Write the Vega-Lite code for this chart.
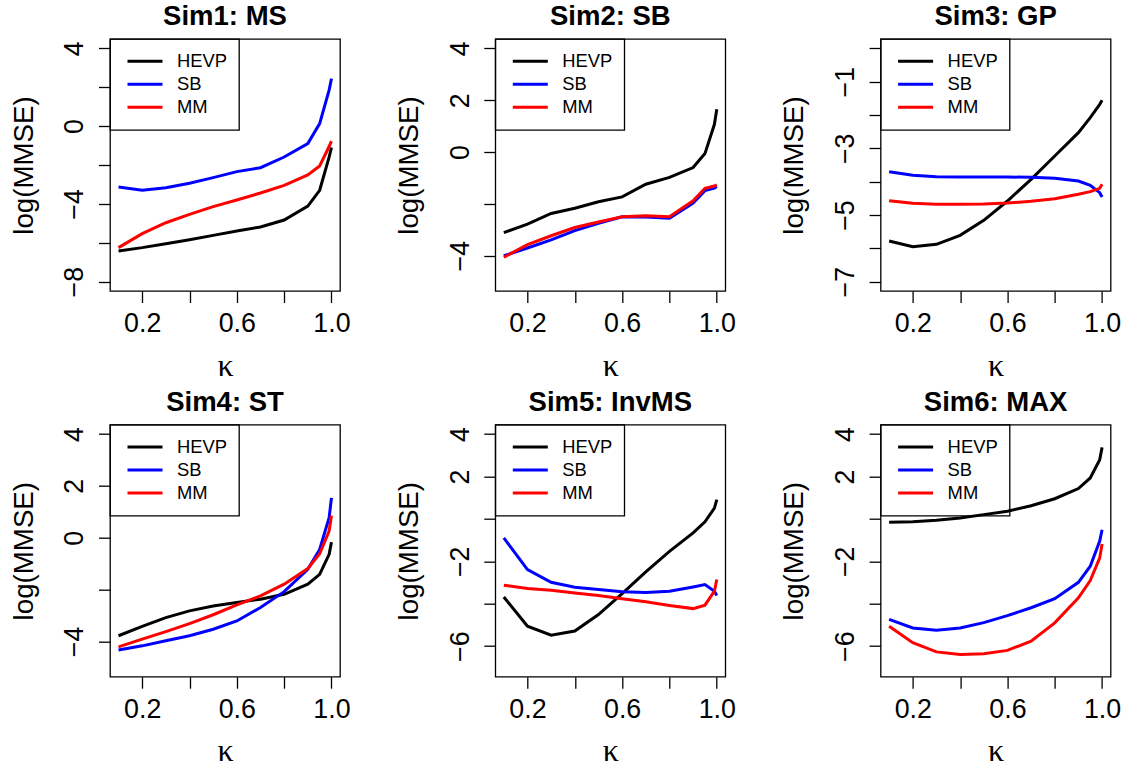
{
"$schema": "https://vega.github.io/schema/vega-lite/v6.json",
"padding": {"left": 9, "top": 2, "right": 5, "bottom": 5},
"background": "white",
"config": {
  "view": {"stroke": "black", "strokeWidth": 1.3},
  "axis": {"grid": false, "domain": false, "tickColor": "black", "tickWidth": 1.3, "tickSize": 11.5, "labelFont": "Liberation Sans", "labelFontSize": 26.8, "labelColor": "black", "titleFont": "Liberation Sans", "titleFontSize": 27.7, "titleColor": "black", "titleFontWeight": "normal", "labelOverlap": false, "labelFlush": false},
  "axisX": {"labelBaseline": "alphabetic", "labelPadding": 29.2, "labelAngle": 0, "labelAlign": "center", "titleFont": "Liberation Serif", "titleFontSize": 32, "titleX": 115, "titleY": 84, "titleBaseline": "alphabetic", "titleAngle": 0, "titleAlign": "center"},
  "axisY": {"labelAngle": 270, "labelAlign": "center", "labelBaseline": "alphabetic", "labelPadding": 15.8, "titleAngle": 270, "titleX": -78, "titleY": 126, "titleBaseline": "alphabetic", "titleAlign": "center"},
  "title": {"font": "Liberation Sans", "fontSize": 27.5, "fontWeight": "bold", "color": "black", "baseline": "alphabetic", "offset": 8, "anchor": "middle", "frame": "group"},
  "legend": {"title": null, "strokeColor": "black", "strokeWidth": 1.3, "padding": 11, "symbolType": "stroke", "symbolStrokeWidth": 3, "symbolSize": 1225, "labelFontSize": 18.4, "labelFont": "Liberation Sans", "labelColor": "black", "clipHeight": 22.5, "rowPadding": 0, "labelOffset": 13, "symbolOffset": 5, "cornerRadius": 0}
},
"datasets": {"d": [
{"panel":"Sim1","kappa":0.1,"method":"HEVP","logmmse":-6.42},{"panel":"Sim1","kappa":0.2,"method":"HEVP","logmmse":-6.25},{"panel":"Sim1","kappa":0.3,"method":"HEVP","logmmse":-6.05},{"panel":"Sim1","kappa":0.4,"method":"HEVP","logmmse":-5.84},{"panel":"Sim1","kappa":0.5,"method":"HEVP","logmmse":-5.62},{"panel":"Sim1","kappa":0.6,"method":"HEVP","logmmse":-5.39},{"panel":"Sim1","kappa":0.7,"method":"HEVP","logmmse":-5.19},{"panel":"Sim1","kappa":0.8,"method":"HEVP","logmmse":-4.83},{"panel":"Sim1","kappa":0.9,"method":"HEVP","logmmse":-4.11},{"panel":"Sim1","kappa":0.95,"method":"HEVP","logmmse":-3.3},{"panel":"Sim1","kappa":0.99,"method":"HEVP","logmmse":-1.6},{"panel":"Sim1","kappa":1.0,"method":"HEVP","logmmse":-1.1},
{"panel":"Sim1","kappa":0.1,"method":"SB","logmmse":-3.13},{"panel":"Sim1","kappa":0.2,"method":"SB","logmmse":-3.3},{"panel":"Sim1","kappa":0.3,"method":"SB","logmmse":-3.17},{"panel":"Sim1","kappa":0.4,"method":"SB","logmmse":-2.94},{"panel":"Sim1","kappa":0.5,"method":"SB","logmmse":-2.65},{"panel":"Sim1","kappa":0.6,"method":"SB","logmmse":-2.34},{"panel":"Sim1","kappa":0.7,"method":"SB","logmmse":-2.14},{"panel":"Sim1","kappa":0.8,"method":"SB","logmmse":-1.59},{"panel":"Sim1","kappa":0.9,"method":"SB","logmmse":-0.9},{"panel":"Sim1","kappa":0.95,"method":"SB","logmmse":0.13},{"panel":"Sim1","kappa":0.99,"method":"SB","logmmse":1.85},{"panel":"Sim1","kappa":1.0,"method":"SB","logmmse":2.44},
{"panel":"Sim1","kappa":0.1,"method":"MM","logmmse":-6.25},{"panel":"Sim1","kappa":0.2,"method":"MM","logmmse":-5.53},{"panel":"Sim1","kappa":0.3,"method":"MM","logmmse":-4.97},{"panel":"Sim1","kappa":0.4,"method":"MM","logmmse":-4.54},{"panel":"Sim1","kappa":0.5,"method":"MM","logmmse":-4.14},{"panel":"Sim1","kappa":0.6,"method":"MM","logmmse":-3.8},{"panel":"Sim1","kappa":0.7,"method":"MM","logmmse":-3.44},{"panel":"Sim1","kappa":0.8,"method":"MM","logmmse":-3.05},{"panel":"Sim1","kappa":0.9,"method":"MM","logmmse":-2.51},{"panel":"Sim1","kappa":0.95,"method":"MM","logmmse":-2.05},{"panel":"Sim1","kappa":0.99,"method":"MM","logmmse":-1.05},{"panel":"Sim1","kappa":1.0,"method":"MM","logmmse":-0.77},
{"panel":"Sim2","kappa":0.1,"method":"HEVP","logmmse":-3.11},{"panel":"Sim2","kappa":0.2,"method":"HEVP","logmmse":-2.78},{"panel":"Sim2","kappa":0.3,"method":"HEVP","logmmse":-2.37},{"panel":"Sim2","kappa":0.4,"method":"HEVP","logmmse":-2.17},{"panel":"Sim2","kappa":0.5,"method":"HEVP","logmmse":-1.92},{"panel":"Sim2","kappa":0.6,"method":"HEVP","logmmse":-1.73},{"panel":"Sim2","kappa":0.7,"method":"HEVP","logmmse":-1.24},{"panel":"Sim2","kappa":0.8,"method":"HEVP","logmmse":-0.98},{"panel":"Sim2","kappa":0.9,"method":"HEVP","logmmse":-0.6},{"panel":"Sim2","kappa":0.95,"method":"HEVP","logmmse":-0.06},{"panel":"Sim2","kappa":0.99,"method":"HEVP","logmmse":1.07},{"panel":"Sim2","kappa":1.0,"method":"HEVP","logmmse":1.65},
{"panel":"Sim2","kappa":0.1,"method":"SB","logmmse":-4.0},{"panel":"Sim2","kappa":0.2,"method":"SB","logmmse":-3.7},{"panel":"Sim2","kappa":0.3,"method":"SB","logmmse":-3.39},{"panel":"Sim2","kappa":0.4,"method":"SB","logmmse":-3.03},{"panel":"Sim2","kappa":0.5,"method":"SB","logmmse":-2.75},{"panel":"Sim2","kappa":0.6,"method":"SB","logmmse":-2.5},{"panel":"Sim2","kappa":0.7,"method":"SB","logmmse":-2.51},{"panel":"Sim2","kappa":0.8,"method":"SB","logmmse":-2.55},{"panel":"Sim2","kappa":0.9,"method":"SB","logmmse":-1.97},{"panel":"Sim2","kappa":0.95,"method":"SB","logmmse":-1.49},{"panel":"Sim2","kappa":0.99,"method":"SB","logmmse":-1.39},{"panel":"Sim2","kappa":1.0,"method":"SB","logmmse":-1.33},
{"panel":"Sim2","kappa":0.1,"method":"MM","logmmse":-4.06},{"panel":"Sim2","kappa":0.2,"method":"MM","logmmse":-3.57},{"panel":"Sim2","kappa":0.3,"method":"MM","logmmse":-3.23},{"panel":"Sim2","kappa":0.4,"method":"MM","logmmse":-2.91},{"panel":"Sim2","kappa":0.5,"method":"MM","logmmse":-2.7},{"panel":"Sim2","kappa":0.6,"method":"MM","logmmse":-2.5},{"panel":"Sim2","kappa":0.7,"method":"MM","logmmse":-2.46},{"panel":"Sim2","kappa":0.8,"method":"MM","logmmse":-2.5},{"panel":"Sim2","kappa":0.9,"method":"MM","logmmse":-1.88},{"panel":"Sim2","kappa":0.95,"method":"MM","logmmse":-1.4},{"panel":"Sim2","kappa":0.99,"method":"MM","logmmse":-1.31},{"panel":"Sim2","kappa":1.0,"method":"MM","logmmse":-1.26},
{"panel":"Sim3","kappa":0.1,"method":"HEVP","logmmse":-5.78},{"panel":"Sim3","kappa":0.2,"method":"HEVP","logmmse":-5.95},{"panel":"Sim3","kappa":0.3,"method":"HEVP","logmmse":-5.88},{"panel":"Sim3","kappa":0.4,"method":"HEVP","logmmse":-5.61},{"panel":"Sim3","kappa":0.5,"method":"HEVP","logmmse":-5.16},{"panel":"Sim3","kappa":0.6,"method":"HEVP","logmmse":-4.58},{"panel":"Sim3","kappa":0.7,"method":"HEVP","logmmse":-3.93},{"panel":"Sim3","kappa":0.8,"method":"HEVP","logmmse":-3.23},{"panel":"Sim3","kappa":0.9,"method":"HEVP","logmmse":-2.53},{"panel":"Sim3","kappa":0.95,"method":"HEVP","logmmse":-2.08},{"panel":"Sim3","kappa":0.99,"method":"HEVP","logmmse":-1.68},{"panel":"Sim3","kappa":1.0,"method":"HEVP","logmmse":-1.56},
{"panel":"Sim3","kappa":0.1,"method":"SB","logmmse":-3.7},{"panel":"Sim3","kappa":0.2,"method":"SB","logmmse":-3.81},{"panel":"Sim3","kappa":0.3,"method":"SB","logmmse":-3.85},{"panel":"Sim3","kappa":0.4,"method":"SB","logmmse":-3.86},{"panel":"Sim3","kappa":0.5,"method":"SB","logmmse":-3.86},{"panel":"Sim3","kappa":0.6,"method":"SB","logmmse":-3.86},{"panel":"Sim3","kappa":0.7,"method":"SB","logmmse":-3.87},{"panel":"Sim3","kappa":0.8,"method":"SB","logmmse":-3.9},{"panel":"Sim3","kappa":0.9,"method":"SB","logmmse":-3.98},{"panel":"Sim3","kappa":0.95,"method":"SB","logmmse":-4.11},{"panel":"Sim3","kappa":0.99,"method":"SB","logmmse":-4.33},{"panel":"Sim3","kappa":1.0,"method":"SB","logmmse":-4.46},
{"panel":"Sim3","kappa":0.1,"method":"MM","logmmse":-4.57},{"panel":"Sim3","kappa":0.2,"method":"MM","logmmse":-4.65},{"panel":"Sim3","kappa":0.3,"method":"MM","logmmse":-4.68},{"panel":"Sim3","kappa":0.4,"method":"MM","logmmse":-4.68},{"panel":"Sim3","kappa":0.5,"method":"MM","logmmse":-4.67},{"panel":"Sim3","kappa":0.6,"method":"MM","logmmse":-4.64},{"panel":"Sim3","kappa":0.7,"method":"MM","logmmse":-4.59},{"panel":"Sim3","kappa":0.8,"method":"MM","logmmse":-4.51},{"panel":"Sim3","kappa":0.9,"method":"MM","logmmse":-4.38},{"panel":"Sim3","kappa":0.95,"method":"MM","logmmse":-4.3},{"panel":"Sim3","kappa":0.99,"method":"MM","logmmse":-4.2},{"panel":"Sim3","kappa":1.0,"method":"MM","logmmse":-4.08},
{"panel":"Sim4","kappa":0.1,"method":"HEVP","logmmse":-3.78},{"panel":"Sim4","kappa":0.2,"method":"HEVP","logmmse":-3.42},{"panel":"Sim4","kappa":0.3,"method":"HEVP","logmmse":-3.08},{"panel":"Sim4","kappa":0.4,"method":"HEVP","logmmse":-2.82},{"panel":"Sim4","kappa":0.5,"method":"HEVP","logmmse":-2.63},{"panel":"Sim4","kappa":0.6,"method":"HEVP","logmmse":-2.5},{"panel":"Sim4","kappa":0.7,"method":"HEVP","logmmse":-2.37},{"panel":"Sim4","kappa":0.8,"method":"HEVP","logmmse":-2.18},{"panel":"Sim4","kappa":0.9,"method":"HEVP","logmmse":-1.79},{"panel":"Sim4","kappa":0.95,"method":"HEVP","logmmse":-1.41},{"panel":"Sim4","kappa":0.99,"method":"HEVP","logmmse":-0.64},{"panel":"Sim4","kappa":1.0,"method":"HEVP","logmmse":-0.17},
{"panel":"Sim4","kappa":0.1,"method":"SB","logmmse":-4.33},{"panel":"Sim4","kappa":0.2,"method":"SB","logmmse":-4.17},{"panel":"Sim4","kappa":0.3,"method":"SB","logmmse":-3.97},{"panel":"Sim4","kappa":0.4,"method":"SB","logmmse":-3.78},{"panel":"Sim4","kappa":0.5,"method":"SB","logmmse":-3.53},{"panel":"Sim4","kappa":0.6,"method":"SB","logmmse":-3.21},{"panel":"Sim4","kappa":0.7,"method":"SB","logmmse":-2.69},{"panel":"Sim4","kappa":0.8,"method":"SB","logmmse":-2.08},{"panel":"Sim4","kappa":0.9,"method":"SB","logmmse":-1.22},{"panel":"Sim4","kappa":0.95,"method":"SB","logmmse":-0.45},{"panel":"Sim4","kappa":0.99,"method":"SB","logmmse":0.77},{"panel":"Sim4","kappa":1.0,"method":"SB","logmmse":1.54},
{"panel":"Sim4","kappa":0.1,"method":"MM","logmmse":-4.21},{"panel":"Sim4","kappa":0.2,"method":"MM","logmmse":-3.91},{"panel":"Sim4","kappa":0.3,"method":"MM","logmmse":-3.62},{"panel":"Sim4","kappa":0.4,"method":"MM","logmmse":-3.31},{"panel":"Sim4","kappa":0.5,"method":"MM","logmmse":-2.97},{"panel":"Sim4","kappa":0.6,"method":"MM","logmmse":-2.59},{"panel":"Sim4","kappa":0.7,"method":"MM","logmmse":-2.24},{"panel":"Sim4","kappa":0.8,"method":"MM","logmmse":-1.79},{"panel":"Sim4","kappa":0.9,"method":"MM","logmmse":-1.19},{"panel":"Sim4","kappa":0.95,"method":"MM","logmmse":-0.62},{"panel":"Sim4","kappa":0.99,"method":"MM","logmmse":0.26},{"panel":"Sim4","kappa":1.0,"method":"MM","logmmse":0.86},
{"panel":"Sim5","kappa":0.1,"method":"HEVP","logmmse":-3.68},{"panel":"Sim5","kappa":0.2,"method":"HEVP","logmmse":-5.06},{"panel":"Sim5","kappa":0.3,"method":"HEVP","logmmse":-5.48},{"panel":"Sim5","kappa":0.4,"method":"HEVP","logmmse":-5.29},{"panel":"Sim5","kappa":0.5,"method":"HEVP","logmmse":-4.51},{"panel":"Sim5","kappa":0.6,"method":"HEVP","logmmse":-3.52},{"panel":"Sim5","kappa":0.7,"method":"HEVP","logmmse":-2.5},{"panel":"Sim5","kappa":0.8,"method":"HEVP","logmmse":-1.53},{"panel":"Sim5","kappa":0.9,"method":"HEVP","logmmse":-0.66},{"panel":"Sim5","kappa":0.95,"method":"HEVP","logmmse":-0.14},{"panel":"Sim5","kappa":0.99,"method":"HEVP","logmmse":0.51},{"panel":"Sim5","kappa":1.0,"method":"HEVP","logmmse":0.91},
{"panel":"Sim5","kappa":0.1,"method":"SB","logmmse":-0.9},{"panel":"Sim5","kappa":0.2,"method":"SB","logmmse":-2.39},{"panel":"Sim5","kappa":0.3,"method":"SB","logmmse":-2.99},{"panel":"Sim5","kappa":0.4,"method":"SB","logmmse":-3.22},{"panel":"Sim5","kappa":0.5,"method":"SB","logmmse":-3.33},{"panel":"Sim5","kappa":0.6,"method":"SB","logmmse":-3.43},{"panel":"Sim5","kappa":0.7,"method":"SB","logmmse":-3.47},{"panel":"Sim5","kappa":0.8,"method":"SB","logmmse":-3.41},{"panel":"Sim5","kappa":0.9,"method":"SB","logmmse":-3.21},{"panel":"Sim5","kappa":0.95,"method":"SB","logmmse":-3.1},{"panel":"Sim5","kappa":0.99,"method":"SB","logmmse":-3.41},{"panel":"Sim5","kappa":1.0,"method":"SB","logmmse":-3.61},
{"panel":"Sim5","kappa":0.1,"method":"MM","logmmse":-3.13},{"panel":"Sim5","kappa":0.2,"method":"MM","logmmse":-3.28},{"panel":"Sim5","kappa":0.3,"method":"MM","logmmse":-3.36},{"panel":"Sim5","kappa":0.4,"method":"MM","logmmse":-3.49},{"panel":"Sim5","kappa":0.5,"method":"MM","logmmse":-3.61},{"panel":"Sim5","kappa":0.6,"method":"MM","logmmse":-3.76},{"panel":"Sim5","kappa":0.7,"method":"MM","logmmse":-3.91},{"panel":"Sim5","kappa":0.8,"method":"MM","logmmse":-4.08},{"panel":"Sim5","kappa":0.9,"method":"MM","logmmse":-4.23},{"panel":"Sim5","kappa":0.95,"method":"MM","logmmse":-4.07},{"panel":"Sim5","kappa":0.99,"method":"MM","logmmse":-3.41},{"panel":"Sim5","kappa":1.0,"method":"MM","logmmse":-2.86},
{"panel":"Sim6","kappa":0.1,"method":"HEVP","logmmse":-0.16},{"panel":"Sim6","kappa":0.2,"method":"HEVP","logmmse":-0.14},{"panel":"Sim6","kappa":0.3,"method":"HEVP","logmmse":-0.07},{"panel":"Sim6","kappa":0.4,"method":"HEVP","logmmse":0.04},{"panel":"Sim6","kappa":0.5,"method":"HEVP","logmmse":0.2},{"panel":"Sim6","kappa":0.6,"method":"HEVP","logmmse":0.36},{"panel":"Sim6","kappa":0.7,"method":"HEVP","logmmse":0.62},{"panel":"Sim6","kappa":0.8,"method":"HEVP","logmmse":0.95},{"panel":"Sim6","kappa":0.9,"method":"HEVP","logmmse":1.43},{"panel":"Sim6","kappa":0.95,"method":"HEVP","logmmse":1.93},{"panel":"Sim6","kappa":0.99,"method":"HEVP","logmmse":2.79},{"panel":"Sim6","kappa":1.0,"method":"HEVP","logmmse":3.37},
{"panel":"Sim6","kappa":0.1,"method":"SB","logmmse":-4.74},{"panel":"Sim6","kappa":0.2,"method":"SB","logmmse":-5.14},{"panel":"Sim6","kappa":0.3,"method":"SB","logmmse":-5.25},{"panel":"Sim6","kappa":0.4,"method":"SB","logmmse":-5.14},{"panel":"Sim6","kappa":0.5,"method":"SB","logmmse":-4.89},{"panel":"Sim6","kappa":0.6,"method":"SB","logmmse":-4.56},{"panel":"Sim6","kappa":0.7,"method":"SB","logmmse":-4.19},{"panel":"Sim6","kappa":0.8,"method":"SB","logmmse":-3.76},{"panel":"Sim6","kappa":0.9,"method":"SB","logmmse":-2.99},{"panel":"Sim6","kappa":0.95,"method":"SB","logmmse":-2.23},{"panel":"Sim6","kappa":0.99,"method":"SB","logmmse":-1.05},{"panel":"Sim6","kappa":1.0,"method":"SB","logmmse":-0.51},
{"panel":"Sim6","kappa":0.1,"method":"MM","logmmse":-5.06},{"panel":"Sim6","kappa":0.2,"method":"MM","logmmse":-5.84},{"panel":"Sim6","kappa":0.3,"method":"MM","logmmse":-6.27},{"panel":"Sim6","kappa":0.4,"method":"MM","logmmse":-6.39},{"panel":"Sim6","kappa":0.5,"method":"MM","logmmse":-6.36},{"panel":"Sim6","kappa":0.6,"method":"MM","logmmse":-6.2},{"panel":"Sim6","kappa":0.7,"method":"MM","logmmse":-5.76},{"panel":"Sim6","kappa":0.8,"method":"MM","logmmse":-4.9},{"panel":"Sim6","kappa":0.9,"method":"MM","logmmse":-3.72},{"panel":"Sim6","kappa":0.95,"method":"MM","logmmse":-2.91},{"panel":"Sim6","kappa":0.99,"method":"MM","logmmse":-1.84},{"panel":"Sim6","kappa":1.0,"method":"MM","logmmse":-1.18}
]},
"columns": 3,
"spacing": {"row": 133.7, "column": 155.3},
"bounds": "flush",
"resolve": {"scale": {"x": "independent", "y": "independent", "color": "independent"}, "axis": {"x": "independent", "y": "independent"}, "legend": {"color": "independent"}},
"concat": [
{"title": {"text": "Sim1: MS"}, "width": 230, "height": 252, "data": {"name": "d"}, "transform": [{"filter": "datum.panel == 'Sim1'"}],
 "mark": {"type": "line", "strokeWidth": 3},
 "encoding": {
  "x": {"field": "kappa", "type": "quantitative", "scale": {"domain": [0.064, 1.036], "nice": false, "zero": false}, "axis": {"title": "κ", "values": [0.2, 0.4, 0.6, 0.8, 1.0], "labelExpr": "(abs(datum.value-0.4)<0.01 || abs(datum.value-0.8)<0.01) ? '' : format(datum.value, '.1f')"}},
  "y": {"field": "logmmse", "type": "quantitative", "scale": {"domain": [-8.48, 4.48], "nice": false, "zero": false}, "axis": {"title": "log(MMSE)", "values": [4, 2, 0, -2, -4, -6, -8], "labelExpr": "(datum.value == 2 || datum.value == -2 || datum.value == -6) ? '' : datum.label"}},
  "color": {"field": "method", "type": "nominal", "scale": {"domain": ["HEVP", "SB", "MM"], "range": ["#000000", "#0000FF", "#FF0000"]}, "legend": {"orient": "none", "legendX": 0, "legendY": 0}}
 }},
{"title": {"text": "Sim2: SB"}, "width": 230, "height": 252, "data": {"name": "d"}, "transform": [{"filter": "datum.panel == 'Sim2'"}],
 "mark": {"type": "line", "strokeWidth": 3},
 "encoding": {
  "x": {"field": "kappa", "type": "quantitative", "scale": {"domain": [0.064, 1.036], "nice": false, "zero": false}, "axis": {"title": "κ", "values": [0.2, 0.4, 0.6, 0.8, 1.0], "labelExpr": "(abs(datum.value-0.4)<0.01 || abs(datum.value-0.8)<0.01) ? '' : format(datum.value, '.1f')"}},
  "y": {"field": "logmmse", "type": "quantitative", "scale": {"domain": [-5.36, 4.36], "nice": false, "zero": false}, "axis": {"title": "log(MMSE)", "values": [4, 2, 0, -2, -4], "labelExpr": "(datum.value == -2) ? '' : datum.label"}},
  "color": {"field": "method", "type": "nominal", "scale": {"domain": ["HEVP", "SB", "MM"], "range": ["#000000", "#0000FF", "#FF0000"]}, "legend": {"orient": "none", "legendX": 0, "legendY": 0}}
 }},
{"title": {"text": "Sim3: GP"}, "width": 230, "height": 252, "data": {"name": "d"}, "transform": [{"filter": "datum.panel == 'Sim3'"}],
 "mark": {"type": "line", "strokeWidth": 3},
 "encoding": {
  "x": {"field": "kappa", "type": "quantitative", "scale": {"domain": [0.064, 1.036], "nice": false, "zero": false}, "axis": {"title": "κ", "values": [0.2, 0.4, 0.6, 0.8, 1.0], "labelExpr": "(abs(datum.value-0.4)<0.01 || abs(datum.value-0.8)<0.01) ? '' : format(datum.value, '.1f')"}},
  "y": {"field": "logmmse", "type": "quantitative", "scale": {"domain": [-7.28, 0.28], "nice": false, "zero": false}, "axis": {"title": "log(MMSE)", "values": [0, -1, -2, -3, -4, -5, -6, -7], "labelExpr": "(datum.value == 0 || datum.value == -2 || datum.value == -4 || datum.value == -6) ? '' : datum.label"}},
  "color": {"field": "method", "type": "nominal", "scale": {"domain": ["HEVP", "SB", "MM"], "range": ["#000000", "#0000FF", "#FF0000"]}, "legend": {"orient": "none", "legendX": 0, "legendY": 0}}
 }},
{"title": {"text": "Sim4: ST"}, "width": 230, "height": 252, "data": {"name": "d"}, "transform": [{"filter": "datum.panel == 'Sim4'"}],
 "mark": {"type": "line", "strokeWidth": 3},
 "encoding": {
  "x": {"field": "kappa", "type": "quantitative", "scale": {"domain": [0.064, 1.036], "nice": false, "zero": false}, "axis": {"title": "κ", "values": [0.2, 0.4, 0.6, 0.8, 1.0], "labelExpr": "(abs(datum.value-0.4)<0.01 || abs(datum.value-0.8)<0.01) ? '' : format(datum.value, '.1f')"}},
  "y": {"field": "logmmse", "type": "quantitative", "scale": {"domain": [-5.36, 4.36], "nice": false, "zero": false}, "axis": {"title": "log(MMSE)", "values": [4, 2, 0, -2, -4], "labelExpr": "(datum.value == -2) ? '' : datum.label"}},
  "color": {"field": "method", "type": "nominal", "scale": {"domain": ["HEVP", "SB", "MM"], "range": ["#000000", "#0000FF", "#FF0000"]}, "legend": {"orient": "none", "legendX": 0, "legendY": 0}}
 }},
{"title": {"text": "Sim5: InvMS"}, "width": 230, "height": 252, "data": {"name": "d"}, "transform": [{"filter": "datum.panel == 'Sim5'"}],
 "mark": {"type": "line", "strokeWidth": 3},
 "encoding": {
  "x": {"field": "kappa", "type": "quantitative", "scale": {"domain": [0.064, 1.036], "nice": false, "zero": false}, "axis": {"title": "κ", "values": [0.2, 0.4, 0.6, 0.8, 1.0], "labelExpr": "(abs(datum.value-0.4)<0.01 || abs(datum.value-0.8)<0.01) ? '' : format(datum.value, '.1f')"}},
  "y": {"field": "logmmse", "type": "quantitative", "scale": {"domain": [-7.44, 4.44], "nice": false, "zero": false}, "axis": {"title": "log(MMSE)", "values": [4, 2, 0, -2, -4, -6], "labelExpr": "(datum.value == 0 || datum.value == -4) ? '' : datum.label"}},
  "color": {"field": "method", "type": "nominal", "scale": {"domain": ["HEVP", "SB", "MM"], "range": ["#000000", "#0000FF", "#FF0000"]}, "legend": {"orient": "none", "legendX": 0, "legendY": 0}}
 }},
{"title": {"text": "Sim6: MAX"}, "width": 230, "height": 252, "data": {"name": "d"}, "transform": [{"filter": "datum.panel == 'Sim6'"}],
 "mark": {"type": "line", "strokeWidth": 3},
 "encoding": {
  "x": {"field": "kappa", "type": "quantitative", "scale": {"domain": [0.064, 1.036], "nice": false, "zero": false}, "axis": {"title": "κ", "values": [0.2, 0.4, 0.6, 0.8, 1.0], "labelExpr": "(abs(datum.value-0.4)<0.01 || abs(datum.value-0.8)<0.01) ? '' : format(datum.value, '.1f')"}},
  "y": {"field": "logmmse", "type": "quantitative", "scale": {"domain": [-7.44, 4.44], "nice": false, "zero": false}, "axis": {"title": "log(MMSE)", "values": [4, 2, 0, -2, -4, -6], "labelExpr": "(datum.value == 0 || datum.value == -4) ? '' : datum.label"}},
  "color": {"field": "method", "type": "nominal", "scale": {"domain": ["HEVP", "SB", "MM"], "range": ["#000000", "#0000FF", "#FF0000"]}, "legend": {"orient": "none", "legendX": 0, "legendY": 0}}
 }}
]
}
